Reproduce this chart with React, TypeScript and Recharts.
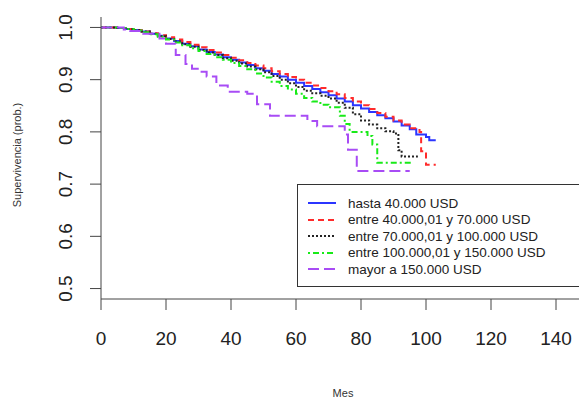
import { LineChart, Line, XAxis, YAxis, Legend } from 'recharts';

// grupos de ingreso
const grupos = [
    'hasta 40.000 USD',
    'entre 40.000,01 y 70.000 USD',
    'entre 70.000,01 y 100.000 USD',
    'entre 100.000,01 y 150.000 USD',
    'mayor a 150.000 USD',
];

// tiempos (meses) y supervivencia estimada por grupo
const mesesG1 = [0, 2.5, 5, 7.5, 10, 12.5, 15, 17.5, 20, 22.5, 25, 27.5, 30, 32.5, 35, 37.5, 40, 42.5, 45, 47.5, 50, 52.5, 55, 57.5, 60, 62.5, 65, 67.5, 70, 72.5, 75, 77.5, 80, 82.5, 85, 87.5, 90, 92.5, 95, 97, 100, 101, 103];
const survG1 = [1, 1, 0.999, 0.997, 0.995, 0.992, 0.988, 0.984, 0.979, 0.974, 0.969, 0.964, 0.958, 0.953, 0.948, 0.943, 0.938, 0.933, 0.928, 0.922, 0.917, 0.911, 0.906, 0.9, 0.894, 0.888, 0.882, 0.876, 0.87, 0.864, 0.858, 0.851, 0.845, 0.838, 0.832, 0.826, 0.82, 0.812, 0.805, 0.795, 0.79, 0.784, 0.784];

const mesesG2 = [0, 2.5, 5, 7.5, 10, 12.5, 15, 17.5, 20, 22.5, 25, 27.5, 30, 32.5, 35, 37.5, 40, 42.5, 45, 47.5, 50, 52.5, 55, 57.5, 60, 62.5, 65, 67.5, 70, 72.5, 75, 77.5, 80, 82.5, 85, 87.5, 90, 92.5, 95, 98, 98.5, 100, 103];
const survG2 = [1, 1, 0.999, 0.997, 0.995, 0.992, 0.989, 0.985, 0.981, 0.977, 0.972, 0.967, 0.962, 0.957, 0.952, 0.947, 0.942, 0.937, 0.932, 0.927, 0.922, 0.916, 0.911, 0.905, 0.9, 0.894, 0.889, 0.884, 0.878, 0.872, 0.865, 0.858, 0.851, 0.844, 0.836, 0.829, 0.822, 0.814, 0.807, 0.8, 0.763, 0.737, 0.737];

const mesesG3 = [0, 2.5, 5, 7.5, 10, 12.5, 15, 17.5, 20, 22.5, 25, 27.5, 30, 32.5, 35, 37.5, 40, 42.5, 45, 47.5, 50, 52.5, 55, 57.5, 60, 62.5, 65, 67.5, 70, 72.5, 75, 77.5, 80, 82.5, 85, 87.5, 90, 91.5, 92.5, 97.5];
const survG3 = [1, 1, 0.999, 0.997, 0.995, 0.992, 0.988, 0.983, 0.978, 0.973, 0.968, 0.963, 0.957, 0.952, 0.947, 0.941, 0.936, 0.931, 0.925, 0.92, 0.914, 0.907, 0.9, 0.893, 0.886, 0.879, 0.874, 0.869, 0.864, 0.856, 0.846, 0.834, 0.822, 0.814, 0.807, 0.801, 0.797, 0.765, 0.753, 0.753];

const mesesG4 = [0, 2.5, 5, 7.5, 10, 12.5, 15, 17.5, 20, 22.5, 25, 27.5, 30, 32.5, 35, 37.5, 40, 42.5, 45, 47.5, 50, 52.5, 55, 57.5, 60, 62.5, 65, 67.5, 70, 73.5, 75, 76.5, 82, 83.5, 85, 96];
const survG4 = [1, 1, 0.999, 0.997, 0.994, 0.991, 0.987, 0.982, 0.977, 0.971, 0.966, 0.96, 0.955, 0.949, 0.943, 0.938, 0.932, 0.926, 0.92, 0.912, 0.904, 0.896, 0.888, 0.881, 0.873, 0.865, 0.858, 0.852, 0.847, 0.831, 0.815, 0.8, 0.792, 0.776, 0.741, 0.741];

const mesesG5 = [0, 7, 9, 13, 18, 20, 23, 26, 28, 30.5, 32.5, 35.5, 39, 45, 48, 52, 63.5, 66.5, 75, 76, 78.7, 95];
const survG5 = [1, 0.996, 0.993, 0.988, 0.979, 0.969, 0.947, 0.93, 0.921, 0.915, 0.906, 0.889, 0.877, 0.873, 0.853, 0.831, 0.821, 0.811, 0.795, 0.766, 0.725, 0.725];

const xTicks = [0, 20, 40, 60, 80, 100, 120, 140];
const yTicks = [0.5, 0.6, 0.7, 0.8, 0.9, 1.0];

const serie = (t: number[], s: number[]) => t.map((m, i) => ({ t: m, s: s[i] }));

const series = [
    { name: grupos[0], data: serie(mesesG1, survG1), color: '#2b35ff', dash: undefined },
    { name: grupos[1], data: serie(mesesG2, survG2), color: '#ff2b2b', dash: '6 4' },
    { name: grupos[2], data: serie(mesesG3, survG3), color: '#222222', dash: '2 2' },
    { name: grupos[3], data: serie(mesesG4, survG4), color: '#18ea18', dash: '2 3 6 3' },
    { name: grupos[4], data: serie(mesesG5, survG5), color: '#a84cf5', dash: '11 5' },
];

const FONT = '"Liberation Sans", Arial, sans-serif';

const XTick = ({ x, payload }: any) => (
    <text x={x} y={345} textAnchor="middle" fontSize={19} fontFamily={FONT} fill="#222">
        {payload.value}
    </text>
);

const YTick = ({ y, payload }: any) => (
    <text
        x={72}
        y={y}
        transform={`rotate(-90, 72, ${y})`}
        textAnchor="middle"
        fontSize={19}
        fontFamily={FONT}
        fill="#222"
    >
        {Number(payload.value).toFixed(1)}
    </text>
);

const Leyenda = () => (
    <div
        style={{
            border: '1.5px solid #333',
            background: '#fff',
            boxSizing: 'border-box',
            width: 300,
            height: 103,
            paddingTop: 10,
            paddingLeft: 10,
            fontFamily: FONT,
            fontSize: 13.5,
            color: '#222',
        }}
    >
        {series.map((s) => (
            <div key={s.name} style={{ display: 'flex', alignItems: 'center', height: 16.5 }}>
                <svg width={30} height={6} style={{ marginRight: 10 }}>
                    <line x1={0} y1={3} x2={28} y2={3} stroke={s.color} strokeWidth={2} strokeDasharray={s.dash} />
                </svg>
                <span>{s.name}</span>
            </div>
        ))}
    </div>
);

export default function App() {
    return (
        <div
            style={{
                position: 'absolute',
                left: 0,
                top: 0,
                width: 579,
                height: 398,
                overflow: 'hidden',
                background: '#fff',
            }}
        >
            <LineChart width={582} height={398} margin={{ top: 17, right: 0, bottom: 0, left: 0 }}>
                <XAxis
                    dataKey="t"
                    type="number"
                    domain={[0, 148]}
                    ticks={xTicks}
                    allowDataOverflow
                    height={99}
                    tickSize={11}
                    stroke="#444"
                    tick={<XTick />}
                    label={{
                        content: () => (
                            <text x={343} y={397} textAnchor="middle" fontSize={11} fontFamily={FONT} fill="#333">
                                Mes
                            </text>
                        ),
                    }}
                />
                <XAxis xAxisId="top" orientation="top" type="number" domain={[0, 148]} height={0} tick={false} tickLine={false} stroke="#444" />
                <YAxis
                    dataKey="s"
                    type="number"
                    domain={[0.48, 1.02]}
                    ticks={yTicks}
                    allowDataOverflow
                    width={101}
                    tickSize={11}
                    stroke="#444"
                    tick={<YTick />}
                    label={{
                        content: () => (
                            <text
                                x={21}
                                y={155}
                                transform="rotate(-90, 21, 155)"
                                textAnchor="middle"
                                fontSize={11}
                                fontFamily={FONT}
                                fill="#333"
                            >
                                Supervivencia (prob.)
                            </text>
                        ),
                    }}
                />
                {series.map((s) => (
                    <Line
                        key={s.name}
                        data={s.data}
                        dataKey="s"
                        name={s.name}
                        type="stepAfter"
                        stroke={s.color}
                        strokeWidth={2}
                        strokeDasharray={s.dash}
                        dot={false}
                        activeDot={false}
                        isAnimationActive={false}
                    />
                ))}
                <Legend
                    layout="horizontal"
                    verticalAlign="middle"
                    content={<Leyenda />}
                    wrapperStyle={{ left: 297, top: 184, width: 300, height: 103 }}
                />
            </LineChart>
        </div>
    );
}
